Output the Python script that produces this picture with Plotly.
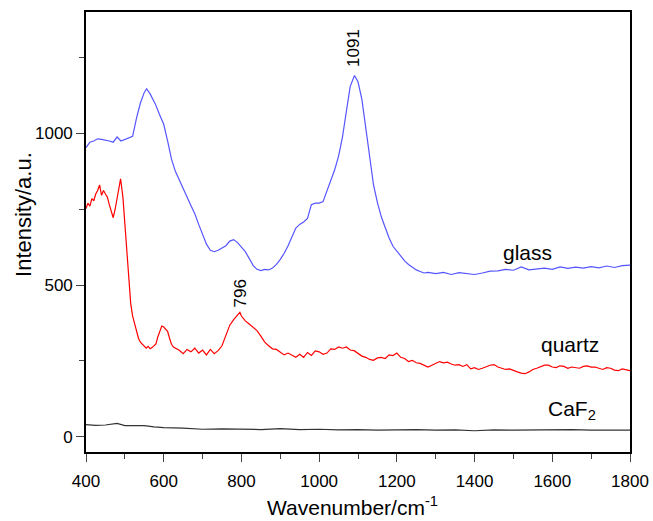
import plotly.graph_objects as go

# ---- data ----
glass_x = [400, 410, 420, 430, 440, 450, 460, 470, 480, 490, 500, 510, 520, 530, 540, 550, 556, 565, 578, 590,
           600, 610, 620, 630, 640, 650, 660, 670, 680, 690, 700, 710, 720, 730, 740, 750, 760, 770, 780, 790,
           800, 810, 820, 830, 840, 850, 860, 870, 880, 890, 900, 910, 920, 930, 940, 950, 960, 970, 980, 990,
           1000, 1010, 1020, 1030, 1040, 1050, 1060, 1070, 1080, 1091, 1100, 1110, 1120, 1130, 1140, 1150, 1160,
           1170, 1180, 1190, 1200, 1210, 1220, 1230, 1240, 1250, 1260, 1270, 1280, 1300, 1320, 1340, 1360, 1380,
           1400, 1420, 1440, 1460, 1480, 1500, 1520, 1540, 1560, 1580, 1600, 1620, 1640, 1660, 1680, 1700, 1720,
           1740, 1760, 1780, 1800]
glass_y = [953, 971, 975, 982, 980, 978, 975, 971, 988, 975, 980, 985, 990, 1050, 1100, 1135, 1147, 1130, 1098, 1060,
           1030, 975, 915, 875, 845, 820, 790, 762, 735, 700, 665, 635, 615, 610, 615, 622, 630, 645, 650, 640,
           625, 610, 588, 565, 552, 548, 552, 550, 556, 568, 585, 605, 630, 660, 688, 700, 708, 720, 765, 770,
           770, 775, 810, 840, 880, 925, 988, 1072, 1155, 1191, 1170, 1112, 1015, 912, 830, 772, 725,
           690, 655, 628, 612, 595, 580, 568, 558, 550, 545, 540, 542, 538, 542, 535, 541, 537,
           535, 540, 546, 547, 552, 549, 560, 550, 554, 556, 552, 560, 555, 559, 556, 561, 557,
           563, 558, 564, 566]

quartz_x = [400, 405, 410, 415, 420, 425, 430, 435, 440, 445, 450, 455, 460, 465, 470, 475, 480, 485, 489, 495,
            500, 505, 510, 515, 520, 525, 530, 535, 540, 545, 550, 555, 560, 565, 570, 575, 580, 585, 590, 595,
            600, 605, 610, 615, 620, 625, 630, 640, 650, 660, 670, 680, 690, 700, 710, 720, 730, 740, 750, 760,
            770, 780, 790, 796, 800, 810, 820, 830, 840, 850, 860, 870, 880, 890, 900, 910, 920, 930, 940, 950,
            960, 970, 980, 990, 1000, 1010, 1020, 1030, 1040, 1050, 1060, 1070, 1080, 1090, 1100, 1110, 1120,
            1130, 1140, 1150, 1160, 1170, 1180, 1190, 1200, 1210, 1220, 1230, 1240, 1250, 1260, 1270, 1280,
            1290, 1300, 1310, 1320, 1330, 1340, 1350, 1360, 1370, 1380, 1390, 1400, 1410, 1420, 1430, 1440,
            1450, 1460, 1470, 1480, 1490, 1500, 1510, 1520, 1530, 1540, 1550, 1560, 1570, 1580, 1590, 1600,
            1610, 1620, 1630, 1640, 1650, 1660, 1670, 1680, 1690, 1700, 1710, 1720, 1730, 1740, 1750, 1760,
            1770, 1780, 1790, 1800]
quartz_y = [752, 770, 760, 785, 778, 800, 812, 830, 796, 812, 800, 790, 765, 740, 722, 750, 790, 820, 850, 790,
            700, 604, 510, 440, 398, 370, 345, 325, 312, 305, 300, 292, 298, 290, 294, 300, 306, 330, 345, 365,
            362, 356, 348, 325, 305, 296, 292, 285, 274, 288, 280, 292, 276, 286, 270, 288, 274, 284, 300, 332,
            368, 386, 402, 410, 398, 382, 372, 362, 350, 332, 312, 300, 290, 288, 280, 270, 276, 268, 262, 272,
            262, 278, 268, 283, 280, 272, 276, 290, 288, 296, 292, 296, 286, 284, 275, 266, 262,
            255, 252, 260, 262, 258, 270, 268, 276, 262, 258, 248, 252, 244, 242, 236, 230,
            236, 242, 248, 244, 246, 240, 236, 238, 232, 238, 224, 228, 222, 226, 232, 236, 238,
            230, 226, 222, 224, 218, 214, 210, 208, 214, 222, 226, 232, 236, 236, 230, 228,
            234, 232, 226, 230, 228, 226, 232, 234, 230, 230, 226, 222, 228, 226, 220, 218,
            224, 222, 218, 218]

caf2_x = [400, 425, 450, 480, 500, 525, 550, 575, 600, 650, 700, 750, 800, 850, 900, 950, 1000, 1050, 1100, 1150,
          1200, 1250, 1300, 1350, 1400, 1450, 1500, 1550, 1600, 1650, 1700, 1750, 1800]
caf2_y = [40, 38, 39, 44, 37, 38, 37, 33, 30, 29, 25, 26, 25, 24, 27, 24, 25, 23, 24, 22,
          23, 24, 22, 23, 20, 23, 22, 23, 22, 24, 22, 23, 22]

x_ticks = [400, 600, 800, 1000, 1200, 1400, 1600, 1800]
y_ticks = [0, 500, 1000]

label_text = ["glass", "quartz", "CaF<sub>2</sub>"]
label_x = [1537, 1645, 1651]
label_y = [609, 303, 89]

peak_text = ["1091", "796"]
peak_x = [1090, 800]
peak_y = [1282, 474]

x_title = "Wavenumber/cm<sup>-1</sup>"
y_title = "Intensity/a.u."

FONT = "Liberation Sans, Arial, sans-serif"

fig = go.Figure()
fig.add_trace(go.Scatter(x=glass_x, y=glass_y, mode="lines", line=dict(color="#5555ff", width=1.2), showlegend=False))
fig.add_trace(go.Scatter(x=quartz_x, y=quartz_y, mode="lines", line=dict(color="#ff0000", width=1.2), showlegend=False))
fig.add_trace(go.Scatter(x=caf2_x, y=caf2_y, mode="lines", line=dict(color="#333333", width=1.2), showlegend=False))

for t, x, y in zip(label_text, label_x, label_y):
    fig.add_annotation(x=x, y=y, text=t, showarrow=False, font=dict(family=FONT, size=21, color="black"))
for t, x, y in zip(peak_text, peak_x, peak_y):
    fig.add_annotation(x=x, y=y, text=t, showarrow=False, textangle=-90, font=dict(family=FONT, size=17, color="black"))

# axis titles as paper-anchored annotations
fig.add_annotation(xref="paper", yref="paper", x=0.489, y=-0.122, text=x_title, showarrow=False,
                   xanchor="center", yanchor="middle", font=dict(family=FONT, size=21, color="black"))
fig.add_annotation(xref="paper", yref="paper", x=-0.114, y=0.541, text=y_title, showarrow=False, textangle=-90,
                   xanchor="center", yanchor="middle", font=dict(family=FONT, size=22, color="black"))

fig.update_layout(
    width=653, height=521,
    margin=dict(l=86, r=23, t=12, b=69),
    paper_bgcolor="white", plot_bgcolor="white",
    font=dict(family=FONT, color="black"),
    xaxis=dict(range=[400, 1800], tickvals=x_ticks, ticks="outside", ticklen=8, tickwidth=1.3, automargin=False,
               showline=True, linecolor="black", linewidth=1.6, mirror=True, showgrid=False, zeroline=False,
               ticklabelstandoff=5,
               tickfont=dict(size=17), minor=dict(dtick=100, tick0=0, ticks="outside", ticklen=5, tickwidth=1.2, showgrid=False)),
    yaxis=dict(range=[-50, 1400], tickvals=y_ticks, ticks="outside", ticklen=8, tickwidth=1.3, automargin=False,
               showline=True, linecolor="black", linewidth=1.6, mirror=True, showgrid=False, zeroline=False,
               tickfont=dict(size=17), minor=dict(dtick=250, tick0=0, ticks="outside", ticklen=5, tickwidth=1.2, showgrid=False)),
)

fig.write_html("out.html", config={"displayModeBar": False}, post_script="document.body.style.margin='0';")
